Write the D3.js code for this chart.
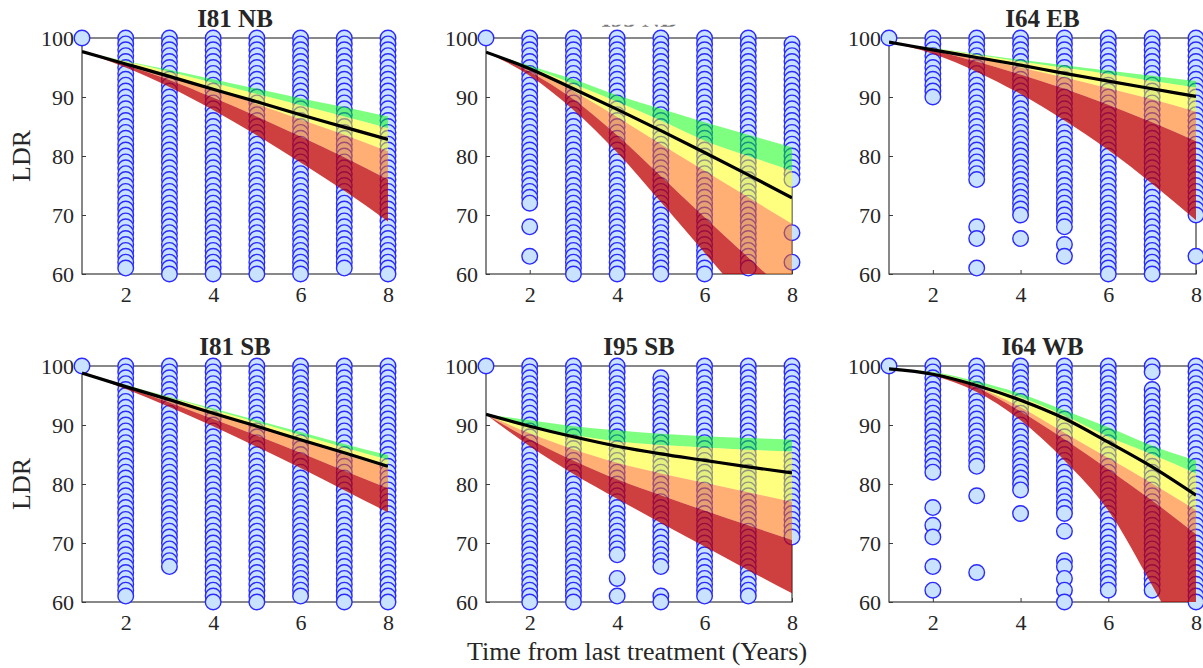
<!DOCTYPE html>
<html>
<head>
<meta charset="utf-8">
<script src="https://cdn.jsdelivr.net/npm/d3@7"></script>
<style>
  body { margin: 0; background: #fff; }
  svg text { font-family: "Liberation Serif", "Times New Roman", serif; fill: #262626; }
</style>
</head>
<body>
<svg id="chart" width="1203" height="668"></svg>
<script>
// ---- data -------------------------------------------------------------
const years = [1, 2, 3, 4, 5, 6, 7, 8];
const xTicks = [2, 4, 6, 8];
const yTicks = [60, 70, 80, 90, 100];
const xLabel = "Time from last treatment (Years)";
const yLabel = "LDR";

// observed LDR per year since treatment (one list per year)
const ldrI81NB = [
  [100],
  [100,99,98,97,96,95,94,93,92,91,90,89,88,87,86,85,84,83,82,81,80,79,78,77,76,75,74,73,72,71,70,69,68,67,66,65,64,63,62,61],
  [100,99,98,97,96,95,94,93,92,91,90,89,88,87,86,85,84,83,82,81,80,79,78,77,76,75,74,73,72,71,70,69,68,67,66,65,64,63,62,61,60],
  [100,99,98,97,96,95,94,93,92,91,90,89,88,87,86,85,84,83,82,81,80,79,78,77,76,75,74,73,72,71,70,69,68,67,66,65,64,63,62,61,60],
  [100,99,98,97,96,95,94,93,92,91,90,89,88,87,86,85,84,83,82,81,80,79,78,77,76,75,74,73,72,71,70,69,68,67,66,65,64,63,62,61,60],
  [100,99,98,97,96,95,94,93,92,91,90,89,88,87,86,85,84,83,82,81,80,79,78,77,76,75,74,73,72,71,70,69,68,67,66,65,64,63,62,61,60],
  [100,99,98,97,96,95,94,93,92,91,90,89,88,87,86,85,84,83,82,81,80,79,78,77,76,75,74,73,72,71,70,69,68,67,66,65,64,63,62,61],
  [100,99,98,97,96,95,94,93,92,91,90,89,88,87,86,85,84,83,82,81,80,79,78,77,76,75,74,73,72,71,70,69,68,67,66,65,64,63,62,61,60]
];
const ldrI95NB = [
  [100],
  [100,99,98,97,96,95,94,93,92,91,90,89,88,87,86,85,84,83,82,81,80,79,78,77,76,75,74,73,72,68,63],
  [100,99,98,97,96,95,94,93,92,91,90,89,88,87,86,85,84,83,82,81,80,79,78,77,76,75,74,73,72,71,70,69,68,67,66,65,64,63,62,61,60],
  [100,99,98,97,96,95,94,93,92,91,90,89,88,87,86,85,84,83,82,81,80,79,78,77,76,75,74,73,72,71,70,69,68,67,66,65,64,63,62,61,60],
  [100,99,98,97,96,95,94,93,92,91,90,89,88,87,86,85,84,83,82,81,80,79,78,77,76,75,74,73,72,71,70,69,68,67,66,65,64,63,62,61,60],
  [100,99,98,97,96,95,94,93,92,91,90,89,88,87,86,85,84,83,82,81,80,79,78,77,76,75,74,73,72,71,70,69,68,67,66,65,64,63,62,61,60],
  [100,99,98,97,96,95,94,93,92,91,90,89,88,87,86,85,84,83,82,81,80,79,78,77,76,75,74,73,72,71,70,69,68,67,66,65,64,63,62,61],
  [99,98,97,96,95,94,93,92,91,90,89,88,87,86,85,84,83,82,81,80,79,78,77,76,67,62]
];
const ldrI64EB = [
  [100],
  [100,99,98,97,96,95,94,93,92,91,90],
  [100,99,98,97,96,95,94,93,92,91,90,89,88,87,86,85,84,83,82,81,80,79,78,77,76,68,66,61],
  [100,99,98,97,96,95,94,93,92,91,90,89,88,87,86,85,84,83,82,81,80,79,78,77,76,75,74,73,72,71,70,66],
  [100,99,98,97,96,95,94,93,92,91,90,89,88,87,86,85,84,83,82,81,80,79,78,77,76,75,74,73,72,71,70,69,68,65,63],
  [100,99,98,97,96,95,94,93,92,91,90,89,88,87,86,85,84,83,82,81,80,79,78,77,76,75,74,73,72,71,70,69,68,67,66,65,64,63,62,61,60],
  [100,99,98,97,96,95,94,93,92,91,90,89,88,87,86,85,84,83,82,81,80,79,78,77,76,75,74,73,72,71,70,69,68,67,66,65,64,63,62,61,60],
  [100,99,98,97,96,95,94,93,92,91,90,89,88,87,86,85,84,83,82,81,80,79,78,77,76,75,74,73,72,71,70,63]
];
const ldrI81SB = [
  [100],
  [100,99,98,97,96,95,94,93,92,91,90,89,88,87,86,85,84,83,82,81,80,79,78,77,76,75,74,73,72,71,70,69,68,67,66,65,64,63,62,61],
  [100,99,98,97,96,95,94,93,92,91,90,89,88,87,86,85,84,83,82,81,80,79,78,77,76,75,74,73,72,71,70,69,68,67,66],
  [100,99,98,97,96,95,94,93,92,91,90,89,88,87,86,85,84,83,82,81,80,79,78,77,76,75,74,73,72,71,70,69,68,67,66,65,64,63,62,61,60],
  [100,99,98,97,96,95,94,93,92,91,90,89,88,87,86,85,84,83,82,81,80,79,78,77,76,75,74,73,72,71,70,69,68,67,66,65,64,63,62,61,60],
  [100,99,98,97,96,95,94,93,92,91,90,89,88,87,86,85,84,83,82,81,80,79,78,77,76,75,74,73,72,71,70,69,68,67,66,65,64,63,62,61],
  [100,99,98,97,96,95,94,93,92,91,90,89,88,87,86,85,84,83,82,81,80,79,78,77,76,75,74,73,72,71,70,69,68,67,66,65,64,63,62,61,60],
  [100,99,98,97,96,95,94,93,92,91,90,89,88,87,86,85,84,83,82,81,80,79,78,77,76,75,74,73,72,71,70,69,68,67,66,65,64,63,62,61,60]
];
const ldrI95SB = [
  [100],
  [100,99,98,97,96,95,94,93,92,91,90,89,88,87,86,85,84,83,82,81,80,79,78,77,76,75,74,73,72,71,70,69,68,67,66,65,64,63,62,61,60],
  [100,99,98,97,96,95,94,93,92,91,90,89,88,87,86,85,84,83,82,81,80,79,78,77,76,75,74,73,72,71,70,69,68,67,66,65,64,63,62,61,60],
  [100,99,98,97,96,95,94,93,92,91,90,89,88,87,86,85,84,83,82,81,80,79,78,77,76,75,74,73,72,71,70,69,68,64,61],
  [98,97,96,95,94,93,92,91,90,89,88,87,86,85,84,83,82,81,80,79,78,77,76,75,74,73,72,71,70,69,68,67,66,61,60],
  [100,99,98,97,96,95,94,93,92,91,90,89,88,87,86,85,84,83,82,81,80,79,78,77,76,75,74,73,72,71,70,69,68,67,66,65,64,63,62,61],
  [100,99,98,97,96,95,94,93,92,91,90,89,88,87,86,85,84,83,82,81,80,79,78,77,76,75,74,73,72,71,70,69,68,67,66,65,64,63,62,61],
  [100,99,98,97,96,95,94,93,92,91,90,89,88,87,86,85,84,83,82,81,80,79,78,77,76,75,74,73,72,71]
];
const ldrI64WB = [
  [100],
  [100,99,98,97,96,95,94,93,92,91,90,89,88,87,86,85,84,83,82,76,73,71,66,62],
  [100,99,98,97,96,95,94,93,92,91,90,89,88,87,86,85,84,83,78,65],
  [100,99,98,97,96,95,94,93,92,91,90,89,88,87,86,85,84,83,82,81,80,79,75],
  [100,99,98,97,96,95,94,93,92,91,90,89,88,87,86,85,84,83,82,81,80,79,78,77,76,75,72,67,66,64,62,60],
  [100,99,98,97,96,95,94,93,92,91,90,89,88,87,86,85,84,83,82,81,80,79,78,77,76,75,74,73,72,71,70,69,68,67,66,65,64,63,62],
  [100,99,96,95,94,93,92,91,90,89,88,87,86,85,84,83,82,81,80,79,78,77,76,75,74,73,72,71,70,69,68,67,66,65,64,63,62],
  [100,99,98,97,96,95,94,93,92,91,90,89,88,87,86,85,84,83,82,81,80,79,78,77,76,75,74,73,72,71,70,69,68,67,66,65,64,63,62,61,60]
];

// predicted mean LDR per year
const meanI81NB = [97.7, 95.6, 93.5, 91.3, 89.2, 87.0, 84.9, 82.8];
const meanI95NB = [97.6, 94.8, 91.4, 87.9, 84.3, 80.6, 76.8, 72.9];
const meanI64EB = [99.3, 98.0, 96.7, 95.4, 94.0, 92.7, 91.4, 90.1];
const meanI81SB = [98.8, 96.5, 94.3, 92.0, 89.8, 87.5, 85.3, 83.0];
const meanI95SB = [91.8, 89.8, 88.0, 86.4, 85.1, 84.0, 82.9, 81.9];
const meanI64WB = [99.5, 98.6, 96.7, 94.2, 91.1, 87.1, 82.9, 78.1];

// prediction band edges per year, upper to lower
const bandsI81NB = [
  [97.7, 96.1, 94.6, 93.0, 91.4, 89.8, 88.3, 86.7],
  [97.7, 96.0, 94.3, 92.4, 90.5, 88.6, 86.7, 84.7],
  [97.7, 95.7, 93.6, 91.3, 88.8, 86.2, 83.6, 80.8],
  [97.7, 95.4, 92.9, 89.9, 86.7, 83.3, 79.8, 76.0],
  [97.7, 95.0, 91.7, 87.8, 83.5, 78.9, 74.1, 68.9]
];
const bandsI95NB = [
  [97.6, 95.3, 93.0, 90.3, 88.0, 85.7, 83.6, 81.5],
  [97.6, 95.0, 92.2, 89.2, 86.0, 82.6, 80.0, 77.5],
  [97.6, 94.7, 91.0, 86.6, 82.0, 77.5, 73.0, 68.5],
  [97.6, 94.3, 89.6, 83.5, 76.6, 69.6, 62.8, 56.0],
  [97.6, 93.6, 87.8, 80.6, 72.2, 63.6, 55.0, 46.4]
];
const bandsI64EB = [
  [99.3, 98.3, 97.3, 96.3, 95.4, 94.5, 93.6, 92.7],
  [99.3, 98.25, 97.15, 96.0, 94.95, 93.9, 92.7, 91.6],
  [99.3, 98.1, 96.6, 95.0, 93.3, 91.5, 89.6, 87.5],
  [99.3, 97.9, 96.0, 93.8, 91.4, 88.7, 85.7, 82.5],
  [99.3, 97.35, 94.3, 90.5, 86.0, 81.0, 75.3, 69.1]
];
const bandsI81SB = [
  [98.8, 96.8, 94.8, 92.8, 90.8, 88.8, 86.8, 84.9],
  [98.8, 96.75, 94.65, 92.55, 90.45, 88.3, 86.2, 84.1],
  [98.8, 96.65, 94.4, 92.1, 89.75, 87.4, 85.0, 82.7],
  [98.8, 96.4, 93.8, 91.0, 88.2, 85.3, 82.25, 79.3],
  [98.8, 96.1, 93.05, 89.8, 86.3, 82.7, 78.95, 75.2]
];
const bandsI95SB = [
  [91.8, 90.8, 89.8, 89.1, 88.5, 88.1, 87.8, 87.5],
  [91.8, 89.9, 88.3, 87.2, 86.6, 86.2, 85.8, 85.5],
  [91.8, 88.6, 85.9, 83.6, 81.8, 80.2, 78.6, 77.0],
  [91.8, 87.6, 84.0, 80.8, 78.1, 75.5, 73.0, 70.5],
  [91.8, 86.4, 81.7, 77.5, 73.4, 69.4, 65.4, 61.5]
];
const bandsI64WB = [
  [99.5, 99.0, 97.4, 95.3, 92.5, 89.6, 86.5, 84.0],
  [99.5, 98.9, 97.0, 94.7, 91.6, 88.0, 85.0, 81.8],
  [99.5, 98.7, 96.5, 93.0, 88.7, 84.4, 80.1, 75.6],
  [99.5, 98.6, 96.3, 92.3, 87.6, 82.5, 77.2, 71.5],
  [99.5, 98.4, 95.6, 90.8, 84.0, 75.5, 62.8, 49.0]
];

const panels = [
  { title: "I81 NB", obs: ldrI81NB, mean: meanI81NB, bands: bandsI81NB },
  { title: "I95 NB", obs: ldrI95NB, mean: meanI95NB, bands: bandsI95NB, hiddenTitle: true },
  { title: "I64 EB", obs: ldrI64EB, mean: meanI64EB, bands: bandsI64EB },
  { title: "I81 SB", obs: ldrI81SB, mean: meanI81SB, bands: bandsI81SB },
  { title: "I95 SB", obs: ldrI95SB, mean: meanI95SB, bands: bandsI95SB },
  { title: "I64 WB", obs: ldrI64WB, mean: meanI64WB, bands: bandsI64WB }
];

// ---- layout & style ---------------------------------------------------
const colSpans = [[82, 388], [486, 792], [889, 1196]];
const rowSpans = [[38, 274], [366, 602]];
const axisColor = "#3a3a3a";
const serif = "'Liberation Serif', 'Times New Roman', serif";
const bandFills = [
  { color: "rgb(0,255,0)", opacity: 0.5 },
  { color: "rgb(255,255,0)", opacity: 0.5 },
  { color: "rgb(255,110,0)", opacity: 0.55 },
  { color: "rgb(190,0,0)", opacity: 0.75 }
];

const svg = d3.select("#chart");
const defs = svg.append("defs");

panels.forEach((p, i) => {
  const [x0, x1] = colSpans[i % 3];
  const [y0, y1] = rowSpans[Math.floor(i / 3)];
  const x = d3.scaleLinear().domain([1, 8]).range([x0, x1]);
  const y = d3.scaleLinear().domain([60, 100]).range([y1, y0]);
  const g = svg.append("g");

  const clipId = "plotclip" + i;
  defs.append("clipPath").attr("id", clipId)
    .append("rect").attr("x", x0).attr("y", y0).attr("width", x1 - x0).attr("height", y1 - y0);

  // axes box
  g.append("rect")
    .attr("x", x0).attr("y", y0).attr("width", x1 - x0).attr("height", y1 - y0)
    .attr("fill", "none").attr("stroke", axisColor).attr("stroke-width", 1.2);

  const yAxis = g.append("g").attr("transform", `translate(${x0},0)`)
    .call(d3.axisLeft(y).tickValues(yTicks).tickFormat(d3.format("d")).tickSize(-4).tickPadding(8));
  const xAxis = g.append("g").attr("transform", `translate(0,${y1})`)
    .call(d3.axisBottom(x).tickValues(xTicks).tickFormat(d3.format("d")).tickSize(-4).tickPadding(12));
  [yAxis, xAxis].forEach(a => {
    a.attr("font-family", serif).attr("font-size", 22);
    a.select(".domain").remove();
    a.selectAll(".tick line").attr("stroke", axisColor);
    a.selectAll(".tick text").attr("fill", "#262626").style("font-family", serif);
  });

  // title
  const title = g.append("text")
    .attr("x", (x0 + x1) / 2).attr("y", y0 - 11.5)
    .attr("text-anchor", "middle")
    .attr("font-size", 25).attr("font-weight", "bold")
    .text(p.title);
  if (p.hiddenTitle) {
    // only the foot of this title stays visible
    const tId = "titleclip" + i;
    defs.append("clipPath").attr("id", tId)
      .append("rect").attr("x", x0).attr("y", y0 - 13.2).attr("width", x1 - x0).attr("height", 2);
    title.attr("clip-path", `url(#${tId})`).style("fill", "#777");
  }

  // observations
  const pts = p.obs.flatMap((vals, k) => vals.map(v => ({ yr: years[k], v })));
  g.append("g").selectAll("circle").data(pts).join("circle")
    .attr("cx", d => x(d.yr)).attr("cy", d => y(d.v)).attr("r", 7.8)
    .attr("fill", "#c9e2ff").attr("stroke", "#2a2aff").attr("stroke-width", 1.4);

  // prediction bands
  const bandG = g.append("g").attr("clip-path", `url(#${clipId})`);
  bandFills.forEach((f, k) => {
    const rows = years.map((yr, j) => ({ yr, hi: p.bands[k][j], lo: p.bands[k + 1][j] }));
    bandG.append("path").datum(rows)
      .attr("d", d3.area().curve(d3.curveMonotoneX)
        .x(d => x(d.yr)).y0(d => y(d.lo)).y1(d => y(d.hi)))
      .attr("fill", f.color).attr("fill-opacity", f.opacity);
  });

  // mean prediction
  bandG.append("path").datum(years.map((yr, j) => ({ yr, v: p.mean[j] })))
    .attr("d", d3.line().curve(d3.curveMonotoneX).x(d => x(d.yr)).y(d => y(d.v)))
    .attr("fill", "none").attr("stroke", "#000").attr("stroke-width", 3.2);

  // y label for the left column
  if (i % 3 === 0) {
    g.append("text")
      .attr("transform", `translate(30,${(y0 + y1) / 2}) rotate(-90)`)
      .attr("text-anchor", "middle").attr("font-size", 26)
      .text(yLabel);
  }
});

svg.append("text")
  .attr("x", 637).attr("y", 660)
  .attr("text-anchor", "middle").attr("font-size", 26)
  .text(xLabel);
</script>
</body>
</html>
